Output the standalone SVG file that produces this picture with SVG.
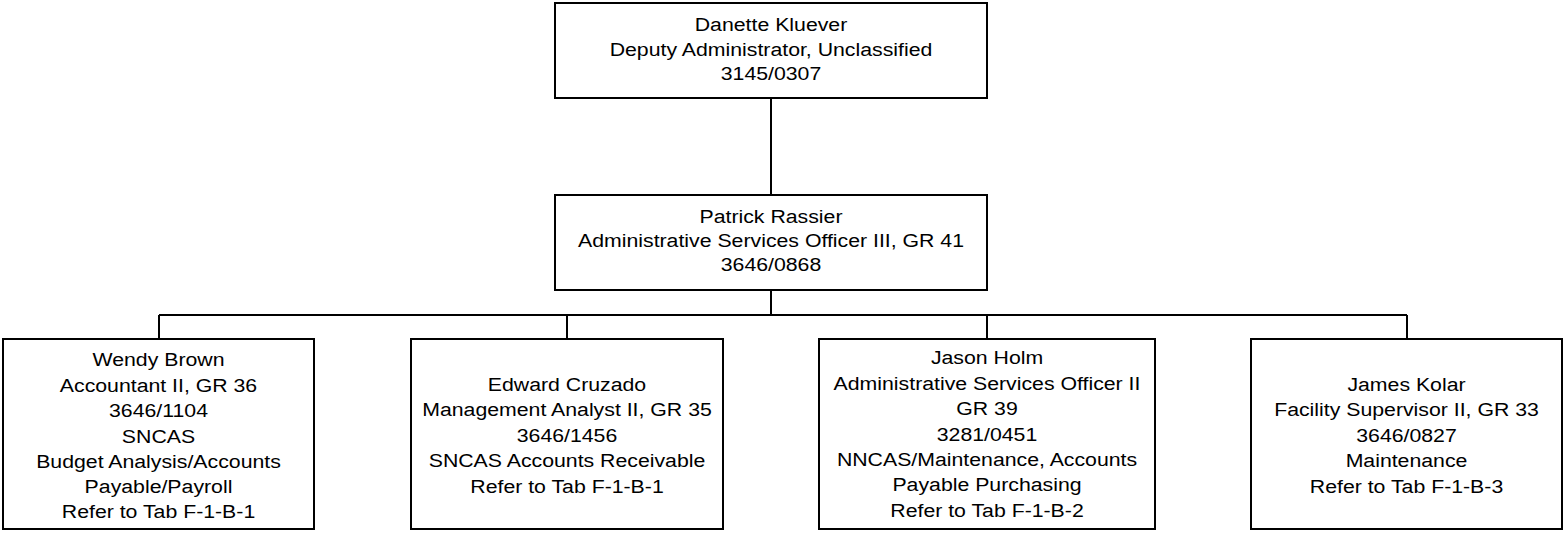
<svg xmlns="http://www.w3.org/2000/svg" width="1565" height="533" viewBox="0 0 1565 533">
<style>
.box{fill:#fff;stroke:#000;stroke-width:2}
.ln{fill:none;stroke:#000;stroke-width:2}
text{font-family:"Liberation Sans",Arial,sans-serif;font-size:19px;fill:#000;text-anchor:middle}
</style>
<rect width="1565" height="533" fill="#fff"/>
<g id="connectors">
<path class="ln" d="M771 98 V195"/>
<path class="ln" d="M771 290 V315"/>
<path class="ln" d="M159 315 H1407"/>
<path class="ln" d="M159 315 V339 M567 315 V339 M987 315 V339 M1407 315 V339"/>
</g>
<g id="kluever">
<rect class="box" x="555" y="3" width="432" height="95"/>
<g transform="translate(771 0) scale(1.12 1)">
<text x="0" y="31.5">Danette Kluever</text>
<text x="0" y="56">Deputy Administrator, Unclassified</text>
<text x="0" y="80.5">3145/0307</text>
</g>
</g>
<g id="rassier">
<rect class="box" x="555" y="195" width="432" height="95"/>
<g transform="translate(771 0) scale(1.12 1)">
<text x="0" y="223">Patrick Rassier</text>
<text x="0" y="247">Administrative Services Officer III, GR 41</text>
<text x="0" y="271.5">3646/0868</text>
</g>
</g>
<g id="brown">
<rect class="box" x="3" y="339" width="311" height="190"/>
<g transform="translate(158.5 0) scale(1.12 1)">
<text x="0" y="366.5">Wendy Brown</text>
<text x="0" y="392">Accountant II, GR 36</text>
<text x="0" y="417.3">3646/1104</text>
<text x="0" y="442.7">SNCAS</text>
<text x="0" y="468">Budget Analysis/Accounts</text>
<text x="0" y="493.3">Payable/Payroll</text>
<text x="0" y="518.5">Refer to Tab F-1-B-1</text>
</g>
</g>
<g id="cruzado">
<rect class="box" x="411" y="339" width="312" height="190"/>
<g transform="translate(567 0) scale(1.12 1)">
<text x="0" y="390.7">Edward Cruzado</text>
<text x="0" y="416.2">Management Analyst II, GR 35</text>
<text x="0" y="441.8">3646/1456</text>
<text x="0" y="467.3">SNCAS Accounts Receivable</text>
<text x="0" y="493">Refer to Tab F-1-B-1</text>
</g>
</g>
<g id="holm">
<rect class="box" x="819" y="339" width="336" height="190"/>
<g transform="translate(987 0) scale(1.12 1)">
<text x="0" y="364.5">Jason Holm</text>
<text x="0" y="389.9">Administrative Services Officer II</text>
<text x="0" y="415.3">GR 39</text>
<text x="0" y="440.6">3281/0451</text>
<text x="0" y="466">NNCAS/Maintenance, Accounts</text>
<text x="0" y="491.3">Payable Purchasing</text>
<text x="0" y="516.7">Refer to Tab F-1-B-2</text>
</g>
</g>
<g id="kolar">
<rect class="box" x="1251" y="339" width="311" height="190"/>
<g transform="translate(1406.5 0) scale(1.12 1)">
<text x="0" y="390.7">James Kolar</text>
<text x="0" y="416.2">Facility Supervisor II, GR 33</text>
<text x="0" y="441.8">3646/0827</text>
<text x="0" y="467.3">Maintenance</text>
<text x="0" y="493">Refer to Tab F-1-B-3</text>
</g>
</g>
</svg>
